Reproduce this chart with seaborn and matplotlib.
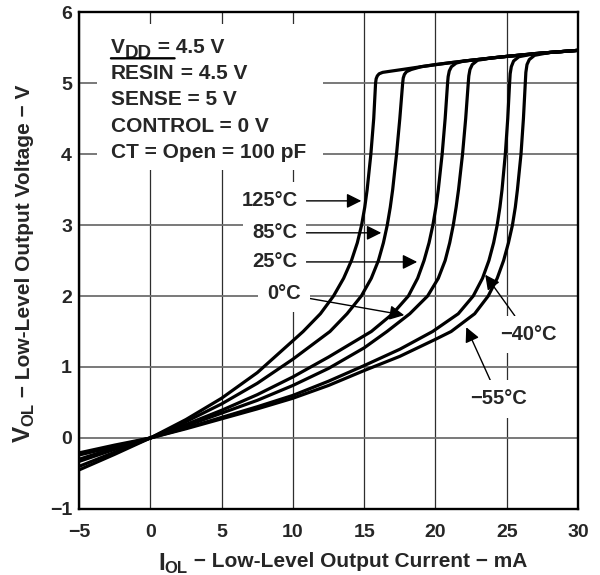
import pandas
import matplotlib
matplotlib.use("Agg")
import matplotlib.pyplot as plt
from matplotlib.patches import Rectangle
import seaborn

# temperature curves (mA, V)
temps = ["125°C", "85°C", "25°C", "0°C", "−40°C", "−55°C"]

current_125 = [-5, -2.5, 0, 2.5, 5, 7.5, 10, 10.72, 11.93, 12.85, 13.56, 14.11, 14.52, 14.82,
               15.04, 15.21, 15.47, 15.67, 15.8, 15.84, 15.92, 16.05, 16.3, 16.8, 18, 20, 22,
               25, 28, 30]
voltage_125 = [-0.45, -0.23, 0, 0.26, 0.56, 0.92, 1.37, 1.5, 1.75, 2.0, 2.25, 2.5, 2.75, 3.0,
               3.25, 3.5, 4.0, 4.5, 5.0, 5.06, 5.1, 5.13, 5.15, 5.165, 5.2, 5.26, 5.31,
               5.375, 5.43, 5.46]

current_85 = [-5, -2.5, 0, 2.5, 5, 7.5, 10, 12.6, 13.8, 14.8, 15.5, 16.0, 16.35, 16.62,
              16.83, 17.0, 17.27, 17.5, 17.7, 17.74, 17.82, 17.97, 18.3, 19, 21, 24, 27, 30]
voltage_85 = [-0.40, -0.2, 0, 0.23, 0.48, 0.77, 1.11, 1.5, 1.75, 2.0, 2.25, 2.5, 2.75, 3.0,
              3.25, 3.5, 4.0, 4.5, 5.0, 5.07, 5.12, 5.16, 5.19, 5.23, 5.285, 5.355, 5.415, 5.46]

current_25 = [-5, -2.5, 0, 2.5, 5, 7.5, 10, 12.5, 15.5, 17.0, 18.1, 18.75, 19.2, 19.55,
              19.82, 20.03, 20.2, 20.47, 20.68, 20.85, 20.89, 20.97, 21.12, 21.45, 22, 25, 28, 30]
voltage_25 = [-0.33, -0.16, 0, 0.19, 0.39, 0.61, 0.86, 1.14, 1.5, 1.75, 2.0, 2.25, 2.5, 2.75,
              3.0, 3.25, 3.5, 4.0, 4.5, 5.0, 5.09, 5.17, 5.23, 5.28, 5.31, 5.375, 5.43, 5.46]

current_0 = [-5, -2.5, 0, 2.5, 5, 7.5, 10, 12.5, 15, 16.6, 18.2, 19.45, 20.2, 20.68, 21.0,
             21.25, 21.45, 21.62, 21.9, 22.12, 22.3, 22.34, 22.42, 22.58, 22.95, 24, 27, 30]
voltage_0 = [-0.30, -0.14, 0, 0.17, 0.35, 0.53, 0.74, 0.98, 1.27, 1.5, 1.75, 2.0, 2.25, 2.5, 2.75,
             3.0, 3.25, 3.5, 4.0, 4.5, 5.0, 5.1, 5.19, 5.26, 5.32, 5.355, 5.415, 5.46]

current_m40 = [-5, -2.5, 0, 2.5, 5, 7.5, 10, 12.5, 15, 17.5, 19.8, 21.6, 22.65, 23.3, 23.75,
               24.08, 24.33, 24.52, 24.67, 24.9, 25.07, 25.2, 25.24, 25.32, 25.48, 25.85, 27, 30]
voltage_m40 = [-0.24, -0.12, 0, 0.14, 0.29, 0.44, 0.6, 0.8, 1.02, 1.25, 1.5, 1.75, 2.0, 2.25, 2.5,
               2.75, 3.0, 3.25, 3.5, 4.0, 4.5, 5.0, 5.13, 5.23, 5.31, 5.37, 5.415, 5.46]

current_m55 = [-5, -2.5, 0, 2.5, 5, 7.5, 10, 12.5, 15, 17.5, 20, 21.1, 22.75, 23.7, 24.33, 24.78,
               25.12, 25.4, 25.6, 25.75, 26.0, 26.17, 26.3, 26.34, 26.42, 26.58, 26.95, 28, 30]
voltage_m55 = [-0.21, -0.1, 0, 0.13, 0.27, 0.41, 0.56, 0.74, 0.95, 1.15, 1.39, 1.5, 1.75, 2.0, 2.25, 2.5,
               2.75, 3.0, 3.25, 3.5, 4.0, 4.5, 5.0, 5.15, 5.26, 5.33, 5.39, 5.43, 5.46]

# where each label's arrow points (mA, V)
arrow_tips = [(14.8, 3.34), (16.2, 2.89), (18.72, 2.48), (17.81, 1.73), (23.49, 2.30), (22.16, 1.56)]

x_ticks = [-5, 0, 5, 10, 15, 20, 25, 30]
y_ticks = [-1, 0, 1, 2, 3, 4, 5, 6]


def chain_text(ax, x, y, parts, transform, rotation=0):
    # pieces of text laid one after another, (text, size, baseline rise in pt)
    text, size, rise = parts[0]
    if rotation:
        prev = ax.text(x, y, text, transform=transform, fontsize=size, fontweight="bold",
                       rotation=90, ha="right", va="bottom")
    else:
        prev = ax.text(x, y, text, transform=transform, fontsize=size, fontweight="bold",
                       ha="left", va="baseline")
    pieces = [prev]
    prev_size, prev_rise = size, rise
    for text, size, rise in parts[1:]:
        shift = (rise - prev_rise) - 0.212 * (size - prev_size)
        if rotation:
            prev = ax.annotate(text, xy=(1, 1), xycoords=prev, xytext=(-shift, 0),
                               textcoords="offset points", fontsize=size, fontweight="bold",
                               rotation=90, ha="right", va="bottom")
        else:
            prev = ax.annotate(text, xy=(1, 0), xycoords=prev, xytext=(0, shift),
                               textcoords="offset points", fontsize=size, fontweight="bold",
                               ha="left", va="bottom")
        pieces.append(prev)
        prev_size, prev_rise = size, rise
    return pieces


def OutputVoltagePlot(outpath):

    currents = [current_125, current_85, current_25, current_0, current_m40, current_m55]
    voltages = [voltage_125, voltage_85, voltage_25, voltage_0, voltage_m40, voltage_m55]

    frames = []
    for temp, cur, vol in zip(temps, currents, voltages):
        frames.append(pandas.DataFrame({"current": cur, "voltage": vol, "temp": temp}))
    df = pandas.concat(frames, ignore_index=True)

    seaborn.set_theme(style="white")
    plt.rcParams["font.family"] = ["Liberation Sans", "DejaVu Sans"]
    plt.rcParams["font.weight"] = "bold"

    fig = plt.figure(figsize=(6, 5.75), dpi=100)
    ax = fig.add_axes([0.1317, 0.1148, 0.8317, 0.8643])

    seaborn.lineplot(data=df, x="current", y="voltage", units="temp", estimator=None,
                     sort=False, color="black", linewidth=2.3, solid_joinstyle="round",
                     solid_capstyle="round", legend=False, ax=ax)

    ax.set_xlim(-5, 30)
    ax.set_ylim(-1, 6)
    ax.set_xticks(x_ticks)
    ax.set_yticks(y_ticks)
    ax.set_xlabel("")
    ax.set_ylabel("")
    ax.tick_params(axis="x", length=0, pad=11, labelsize=14)
    ax.tick_params(axis="y", length=0, pad=5, labelsize=14)
    for lab in ax.get_xticklabels() + ax.get_yticklabels():
        lab.set_fontweight("bold")

    ax.set_axisbelow(True)
    ax.grid(True, axis="x", color="#2e2e2e", linewidth=0.9)
    ax.grid(True, axis="y", color="#6e6e6e", linewidth=1.3)
    for s in ax.spines.values():
        s.set_linewidth(1.7)
        s.set_color("black")
        s.set_visible(True)

    # white area behind the conditions block
    ax.add_patch(Rectangle((0.036, 0.682), 0.453, 0.294, transform=ax.transAxes,
                           facecolor="white", edgecolor="none", zorder=1))

    base = [0.9175, 0.8652, 0.8129, 0.7586, 0.7062]
    left = 0.064
    fs = 15
    chain_text(ax, left, base[0], [("V", fs, 0), ("DD", 13.5, -3.6), (" = 4.5 V", fs, 0)],
               ax.transAxes)
    resin = chain_text(ax, left, base[1], [("RESIN", fs, 0), (" = 4.5 V", fs, 0)],
                       ax.transAxes)
    ax.annotate("", xy=(1.0, 1.3), xycoords=resin[0], xytext=(0.0, 1.3), textcoords=resin[0],
                arrowprops=dict(arrowstyle="-", color="black", lw=1.7, shrinkA=0, shrinkB=0))
    for yy, line in zip(base[2:], ["SENSE = 5 V", "CONTROL = 0 V", "CT = Open = 100 pF"]):
        ax.text(left, yy, line, transform=ax.transAxes, fontsize=fs, fontweight="bold",
                ha="left", va="baseline")

    # temperature labels with arrows
    label_pos = [(8.35, 3.34), (8.73, 2.89), (8.73, 2.48), (9.36, 2.03), (26.5, 1.46), (24.44, 0.55)]
    for temp, tip, pos in zip(temps, arrow_tips, label_pos):
        ax.annotate(temp, xy=tip, xytext=pos, ha="center", va="center", fontsize=14.5,
                    fontweight="bold", zorder=3,
                    bbox=dict(boxstyle="square,pad=0.45", fc="white", ec="none"),
                    arrowprops=dict(arrowstyle="-|>", color="black", lw=1.0,
                                    mutation_scale=22, shrinkA=0, shrinkB=0))

    # axis titles with subscripts
    chain_text(ax, 158 / 600, 1 - 570 / 575,
               [("I", 17.5, 0), ("OL", 12, -2.2), (" − Low-Level Output Current − mA", 15, 2.2)],
               fig.transFigure)
    chain_text(ax, 35 / 600, 1 - 442 / 575,
               [("V", 17.5, 0), ("OL", 12, -2.5), (" − Low-Level Output Voltage − V", 15, 0.5)],
               fig.transFigure, rotation=90)

    fig.savefig(outpath, dpi=100)


def main():
    OutputVoltagePlot("out.png")


if __name__ == "__main__":
    main()
